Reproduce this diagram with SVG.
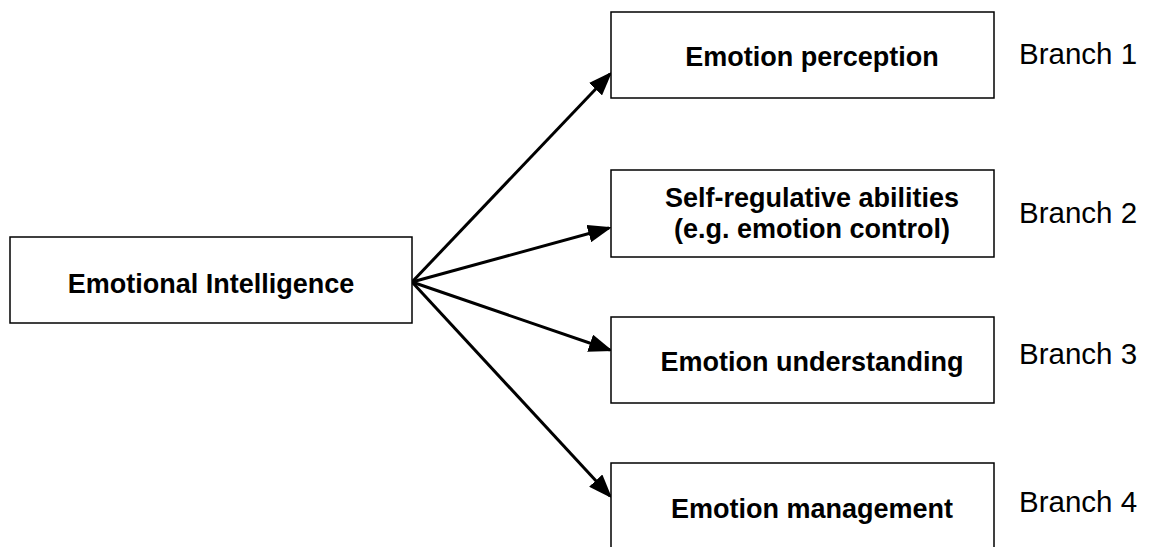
<svg xmlns="http://www.w3.org/2000/svg" width="1149" height="547" viewBox="0 0 1149 547">
<style>
.box{fill:#fff;stroke:#000;stroke-width:1.5}
.t{font-family:"Liberation Sans",Arial,sans-serif;font-weight:bold;font-size:27px;text-anchor:middle;fill:#000}
.b{font-family:"Liberation Sans",Arial,sans-serif;font-size:29.5px;fill:#000}
.c{stroke:#000;stroke-width:3;fill:none;marker-end:url(#ah)}
</style>
<defs>
<marker id="ah" markerWidth="8" markerHeight="6" refX="7" refY="3" orient="auto" markerUnits="strokeWidth">
<path d="M0,0 L8,3 L0,6 Z" fill="#000"/>
</marker>
</defs>
<rect width="1149" height="547" fill="#fff"/>
<g id="connectors">
<line class="c" x1="412" y1="282" x2="610" y2="74"/>
<line class="c" x1="412" y1="282" x2="609" y2="228"/>
<line class="c" x1="412" y1="282" x2="610" y2="350"/>
<line class="c" x1="412" y1="282" x2="610" y2="496"/>
</g>
<g id="n-ei">
<rect class="box" x="10" y="237" width="402" height="86"/>
<text class="t" x="211" y="293">Emotional Intelligence</text>
</g>
<g id="n-perception">
<rect class="box" x="611" y="12" width="383" height="86"/>
<text class="t" x="812" y="66">Emotion perception</text>
<text class="b" x="1019" y="64">Branch 1</text>
</g>
<g id="n-selfreg">
<rect class="box" x="611" y="170" width="383" height="87"/>
<text class="t" x="812" y="207">Self-regulative abilities</text>
<text class="t" x="812" y="238">(e.g. emotion control)</text>
<text class="b" x="1019" y="223">Branch 2</text>
</g>
<g id="n-understanding">
<rect class="box" x="611" y="317" width="383" height="86"/>
<text class="t" x="812" y="371">Emotion understanding</text>
<text class="b" x="1019" y="364">Branch 3</text>
</g>
<g id="n-management">
<rect class="box" x="611" y="463" width="383" height="90"/>
<text class="t" x="812" y="518">Emotion management</text>
<text class="b" x="1019" y="512">Branch 4</text>
</g>
</svg>
